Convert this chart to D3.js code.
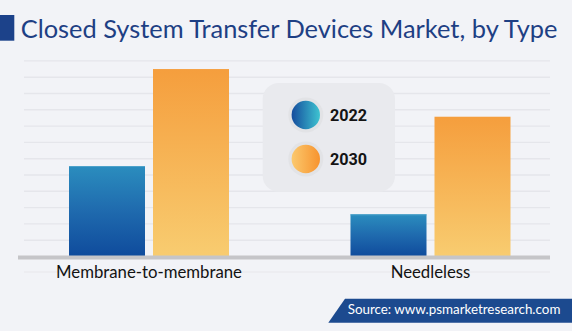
<!DOCTYPE html>
<html>
<head>
<meta charset="utf-8">
<script src="https://cdn.jsdelivr.net/npm/d3@7"></script>
<style>
  html, body { margin: 0; padding: 0; background: #f2f3f7; }
  svg { display: block; }
</style>
</head>
<body>
<svg id="chart" width="572" height="331"></svg>
<script>
// ---- data ----
const categories = ["Membrane-to-membrane", "Needleless"];
const seriesNames = ["2022", "2030"];
const values2022 = [44.4, 20.7];
const values2030 = [92.0, 68.6];
const gridTicks = [8, 16, 24, 32, 40, 48, 56, 64, 72, 80, 88, 96];
const titleText = "Closed System Transfer Devices Market, by Type";
const sourceText = "Source: www.psmarketresearch.com";

const rows = categories.map((c, i) => ({ category: c, values: [
  { key: seriesNames[0], value: values2022[i] },
  { key: seriesNames[1], value: values2030[i] }
]}));

const svg = d3.select("#chart");
const W = 572, H = 331;
svg.append("rect").attr("width", W).attr("height", H).attr("fill", "#f2f3f7");

const defs = svg.append("defs");
function lin(id, x1, y1, x2, y2, stops) {
  const g = defs.append("linearGradient").attr("id", id)
    .attr("x1", x1).attr("y1", y1).attr("x2", x2).attr("y2", y2);
  stops.forEach(s => g.append("stop").attr("offset", s[0]).attr("stop-color", s[1]));
}
lin("barBlue", 0, 0, 0, 1, [[0, "#2b8dbe"], [0.5, "#1f6aae"], [1, "#0f4b9c"]]);
lin("barOrange", 0, 0, 0, 1, [[0, "#f59e3d"], [1, "#f8cc70"]]);
lin("legBlue", 0, 0, 1, 0, [[0, "#154c9d"], [1, "#3ec4d1"]]);
lin("legOrange", 0, 0, 1, 0, [[0, "#fbc96e"], [1, "#f7932e"]]);

// ---- scales ----
const y = d3.scaleLinear().domain([0, 100]).range([256.5, 52.75]);
const x0 = d3.scaleBand().domain(categories)
  .range([12.7, 566.8]).paddingInner(0.4316).paddingOuter(0.2);
const x1 = d3.scaleBand().domain(seriesNames)
  .range([0, x0.bandwidth()]).paddingInner(8 / 84).paddingOuter(0);

// ---- gridlines ----
svg.append("g").selectAll("line").data(gridTicks).join("line")
  .attr("x1", 24).attr("x2", 550)
  .attr("y1", d => y(d)).attr("y2", d => y(d))
  .attr("stroke", "#e5e6eb").attr("stroke-width", 1.4);

// line under labels
svg.append("line").attr("x1", 24).attr("x2", 550).attr("y1", 272).attr("y2", 272)
  .attr("stroke", "#e7e8ec").attr("stroke-width", 1.2);

// ---- legend box ----
const leg = svg.append("g");
leg.append("rect").attr("x", 262.7).attr("y", 83).attr("width", 132.3).attr("height", 108.7)
  .attr("rx", 16).attr("fill", "#e9eaee");
const legY = [115, 159];
seriesNames.forEach((s, i) => {
  leg.append("circle").attr("cx", 305.8).attr("cy", legY[i]).attr("r", 17.5).attr("fill", "#e2e3e6");
  leg.append("circle").attr("cx", 305.8).attr("cy", legY[i]).attr("r", 14.2)
    .attr("fill", i === 0 ? "url(#legBlue)" : "url(#legOrange)");
  leg.append("text").attr("x", 330).attr("y", legY[i] + 5.8)
    .attr("font-family", "Roboto, 'Open Sans', sans-serif").attr("font-weight", 700)
    .attr("font-size", 16.2).attr("fill", "#141414").text(s);
});

// ---- bars ----
const groups = svg.append("g").selectAll("g").data(rows).join("g")
  .attr("transform", d => `translate(${x0(d.category)},0)`);
groups.selectAll("rect").data(d => d.values).join("rect")
  .attr("x", d => x1(d.key))
  .attr("width", x1.bandwidth())
  .attr("y", d => y(d.value))
  .attr("height", d => y(0) - y(d.value))
  .attr("fill", d => d.key === seriesNames[0] ? "url(#barBlue)" : "url(#barOrange)");
groups.selectAll("line.top").data(d => d.values.filter(v => v.key === seriesNames[0])).join("line")
  .attr("class", "top")
  .attr("x1", d => x1(d.key)).attr("x2", d => x1(d.key) + x1.bandwidth())
  .attr("y1", d => y(d.value) + 0.5).attr("y2", d => y(d.value) + 0.5)
  .attr("stroke", "#4fa3cb").attr("stroke-width", 1);

// axis baseline
svg.append("rect").attr("x", 18).attr("y", 255.5).attr("width", 532).attr("height", 4)
  .attr("fill", "#c5c5c8");

// ---- x axis labels ----
const axisG = svg.append("g").attr("transform", "translate(0,259)")
  .call(d3.axisBottom(x0).tickSize(0).tickPadding(0));
axisG.select(".domain").remove();
axisG.selectAll("text")
  .attr("font-family", "Lato, 'Open Sans', sans-serif")
  .attr("font-size", 15).attr("fill", "#121212")
  .attr("dy", null).attr("y", 19.3);
// fit label size to reference width of the longest label
{
  const t = axisG.selectAll("text").filter(d => d === categories[0]).node();
  const w = t.getComputedTextLength();
  const fs = 15 * 186 / w;
  axisG.selectAll("text").attr("font-size", fs);
}

// ---- title ----
svg.append("rect").attr("x", 0).attr("y", 15).attr("width", 14.3).attr("height", 25.7).attr("fill", "#1c428a");
const title = svg.append("text").attr("x", 20.7).attr("y", 38.3)
  .attr("font-family", "Lato, 'Open Sans', sans-serif").attr("font-size", 24)
  .attr("fill", "#1e3f84").text(titleText);
{
  const w = title.node().getComputedTextLength();
  title.attr("font-size", 24 * 537 / w);
}

// ---- source banner ----
svg.append("path")
  .attr("d", "M345,298.7 L572,298.7 L572,322.7 L328.3,322.7 Z")
  .attr("fill", "#1c4a8f");
const src = svg.append("text").attr("x", 347.7).attr("y", 314.3)
  .attr("font-family", "Lato, 'Open Sans', sans-serif").attr("font-size", 13.5)
  .attr("fill", "#ffffff").text(sourceText);
{
  const w = src.node().getComputedTextLength();
  src.attr("font-size", 13.5 * 213 / w);
}
</script>
</body>
</html>
